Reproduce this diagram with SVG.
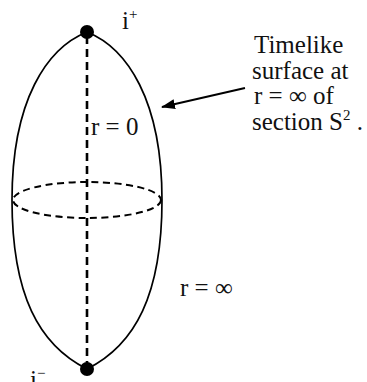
<svg xmlns="http://www.w3.org/2000/svg" width="367" height="382" viewBox="0 0 367 382">
<defs>
<style>
.t{font-family:"Liberation Serif","Times New Roman",serif;font-size:25px;fill:#111}
.s{font-family:"Liberation Serif","Times New Roman",serif;font-size:15px;fill:#111}
.outline{fill:none;stroke:#000;stroke-width:1.7}
.dash{fill:none;stroke:#000;stroke-width:2.6;stroke-dasharray:8 5}
.edash{fill:none;stroke:#000;stroke-width:2;stroke-dasharray:7 4.5}
</style>
<marker id="ah" viewBox="0 0 14 10" refX="13" refY="5" markerWidth="14" markerHeight="10" orient="auto" markerUnits="userSpaceOnUse">
<path d="M0,0 L14,5 L0,10 z" fill="#000"/>
</marker>
</defs>
<g id="surface">
<path class="outline" d="M87,32 C127,48 162,100 162,200 C162,295 135,345 87,369 C39,345 12,295 12,200 C12,100 47,48 87,32 Z"/>
</g>
<g id="section">
<ellipse class="edash" cx="87" cy="200" rx="74" ry="18"/>
</g>
<g id="axis">
<line class="dash" x1="87" y1="36" x2="87" y2="365"/>
<text class="t" x="91" y="135">r = 0</text>
</g>
<g id="iplus">
<circle cx="87" cy="32" r="7" fill="#000"/>
<text class="t" x="122" y="29">i<tspan class="s" dy="-10">+</tspan></text>
</g>
<g id="iminus">
<circle cx="87" cy="369" r="7" fill="#000"/>
<text class="t" x="30" y="388">i<tspan class="s" dy="-10">−</tspan></text>
</g>
<g id="rinf">
<text class="t" x="180" y="296">r = ∞</text>
</g>
<g id="label">
<text class="t" x="254" y="53">Timelike</text>
<text class="t" x="252" y="79">surface at</text>
<text class="t" x="254" y="104">r = ∞  of</text>
<text class="t" x="252" y="130">section  S<tspan class="s" dy="-10">2</tspan><tspan dy="10"> .</tspan></text>
</g>
<g id="connectors">
<line x1="245" y1="88" x2="162" y2="107" stroke="#000" stroke-width="2" marker-end="url(#ah)"/>
</g>
</svg>
